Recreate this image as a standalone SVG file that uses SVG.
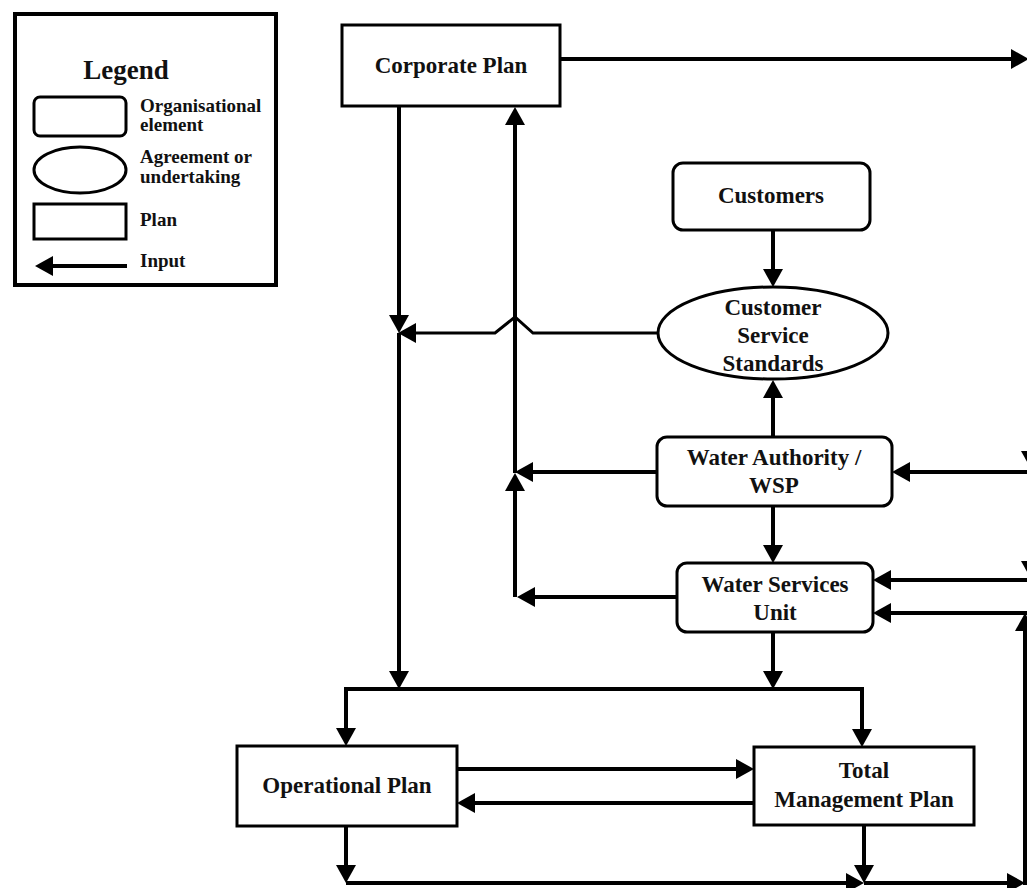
<svg xmlns="http://www.w3.org/2000/svg" width="1027" height="888" viewBox="0 0 1027 888">
<style>
.box{fill:#fff;stroke:#000;stroke-width:3}
.t{font-family:"Liberation Serif","Times New Roman",serif;font-weight:bold;font-size:23px;fill:#111;text-anchor:middle}
.lt{font-family:"Liberation Serif","Times New Roman",serif;font-weight:bold;font-size:19px;fill:#111}
.c{fill:none;stroke:#000;stroke-width:4}
.ca{fill:none;stroke:#000;stroke-width:4;marker-end:url(#ah)}
</style>
<defs>
<marker id="ah" markerUnits="userSpaceOnUse" markerWidth="18" markerHeight="20" refX="14" refY="10" orient="auto" overflow="visible">
<path d="M0,0 L18,10 L0,20 z" fill="#000"/>
</marker>
</defs>
<g id="legend">
<rect x="15" y="14" width="261" height="271" fill="#fff" stroke="#000" stroke-width="4"/>
<text x="126" y="79" class="lt" style="font-size:27px" text-anchor="middle">Legend</text>
<rect x="34" y="97" width="92" height="39" rx="6" class="box"/>
<text x="140" y="112" class="lt">Organisational</text>
<text x="140" y="131" class="lt">element</text>
<ellipse cx="80" cy="170" rx="46" ry="23" class="box"/>
<text x="140" y="163" class="lt">Agreement or</text>
<text x="140" y="183" class="lt">undertaking</text>
<rect x="34" y="204" width="92" height="35" class="box"/>
<text x="140" y="226" class="lt">Plan</text>
<path d="M127,266 H39" class="ca"/>
<text x="140" y="267" class="lt">Input</text>
</g>
<g id="connectors">
<path d="M560,59 H1025" class="ca"/>
<path d="M399,106 V329" class="ca"/>
<path d="M399,333 V685" class="ca"/>
<path d="M658,333 H533 L515,317 L495,333 H402" class="ca" style="stroke-width:3"/>
<path d="M515,597 V477" class="ca"/>
<path d="M515,473 V111" class="ca"/>
<path d="M657,472 H519" class="ca"/>
<path d="M677,597 H521" class="ca"/>
<path d="M773,230 V283" class="ca"/>
<path d="M773,437 V384" class="ca"/>
<path d="M773,506 V559" class="ca"/>
<path d="M773,632 V685" class="ca"/>
<path d="M399,689 H346 V742" class="ca"/>
<path d="M399,689 H862 V743" class="ca"/>
<path d="M457,769 H750" class="ca"/>
<path d="M754,803 H461" class="ca"/>
<path d="M346,826 V879" class="ca"/>
<path d="M864,825 V879" class="ca"/>
<path d="M346,883 H860" class="ca"/>
<path d="M864,883 H1021" class="ca"/>
<path d="M1025,885 V617" class="ca"/>
<path d="M1027,613 H877" class="ca"/>
<path d="M1027,472 H896" class="ca"/>
<path d="M1027,580 H877" class="ca"/>
<polygon points="1021,451 1041,451 1031,469" fill="#000"/>
<polygon points="1021,561 1041,561 1031,579" fill="#000"/>
</g>
<g id="corporate-plan">
<rect x="342" y="25" width="218" height="81" class="box"/>
<text x="451" y="73" class="t">Corporate Plan</text>
</g>
<g id="customers">
<rect x="673" y="163" width="197" height="67" rx="10" class="box"/>
<text x="771" y="203" class="t">Customers</text>
</g>
<g id="customer-service-standards">
<ellipse cx="773" cy="333" rx="115" ry="46" class="box"/>
<text x="773" y="315" class="t">Customer</text>
<text x="773" y="343" class="t">Service</text>
<text x="773" y="371" class="t">Standards</text>
</g>
<g id="water-authority">
<rect x="657" y="437" width="235" height="69" rx="10" class="box"/>
<text x="774" y="465" class="t">Water Authority /</text>
<text x="774" y="493" class="t">WSP</text>
</g>
<g id="water-services-unit">
<rect x="677" y="563" width="196" height="69" rx="10" class="box"/>
<text x="775" y="592" class="t">Water Services</text>
<text x="775" y="620" class="t">Unit</text>
</g>
<g id="operational-plan">
<rect x="237" y="746" width="220" height="80" class="box"/>
<text x="347" y="793" class="t">Operational Plan</text>
</g>
<g id="total-management-plan">
<rect x="754" y="747" width="220" height="78" class="box"/>
<text x="864" y="778" class="t">Total</text>
<text x="864" y="807" class="t">Management Plan</text>
</g>
</svg>
